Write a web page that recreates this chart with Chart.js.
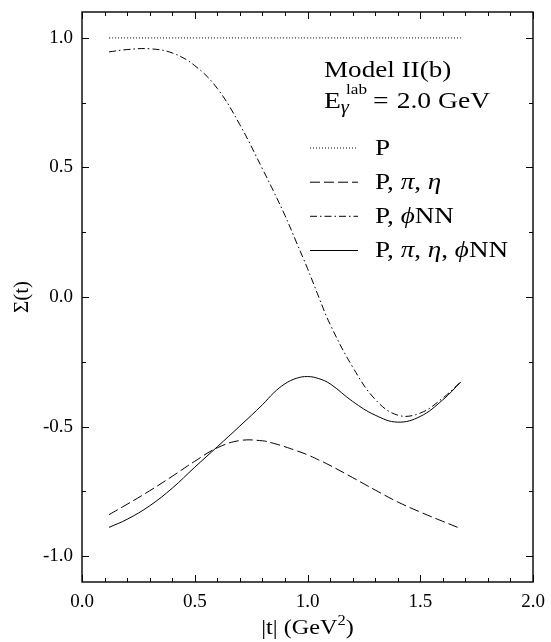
<!DOCTYPE html>
<html>
<head>
<meta charset="utf-8">
<script src="https://cdn.jsdelivr.net/npm/chart.js@4.4.0/dist/chart.umd.min.js"></script>
<style>
html,body{margin:0;padding:0;background:#fff;}
#wrap{width:551px;height:642px;position:relative;}
</style>
</head>
<body>
<div id="wrap"><canvas id="c" width="551" height="642"></canvas></div>
<script>
// ---- data ----
const tValues = [0.12,0.2,0.3,0.4,0.5,0.6,0.7,0.8,0.85,0.9,0.95,1.0,1.05,1.1,1.2,1.3,1.4,1.5,1.6,1.68];
const sigmaP = [1.0,1.0,1.0,1.0,1.0,1.0,1.0,1.0,1.0,1.0,1.0,1.0,1.0,1.0,1.0,1.0,1.0,1.0,1.0,1.0];
const sigmaPPiEta = [-0.840,-0.800,-0.748,-0.692,-0.634,-0.582,-0.554,-0.555,-0.565,-0.578,-0.593,-0.609,-0.629,-0.650,-0.697,-0.745,-0.791,-0.830,-0.866,-0.894];
const sigmaPPhi = [0.946,0.955,0.958,0.942,0.893,0.805,0.665,0.495,0.407,0.315,0.213,0.110,0.000,-0.105,-0.270,-0.395,-0.456,-0.448,-0.390,-0.327];
const sigmaAll = [-0.889,-0.858,-0.806,-0.738,-0.657,-0.578,-0.498,-0.416,-0.370,-0.335,-0.314,-0.307,-0.315,-0.335,-0.403,-0.456,-0.483,-0.461,-0.397,-0.328];
const xTicks = [0.0,0.5,1.0,1.5,2.0];
const yTicks = [-1.0,-0.5,0.0,0.5,1.0];
const seriesLabels = ['P','P, \u03c0, \u03b7','P, \u03d5NN','P, \u03c0, \u03b7, \u03d5NN'];
const xTitle = '|t| (GeV\u00b2)';
const yTitle = '\u03a3(t)';

const SERIF = "'Liberation Serif','DejaVu Serif',serif";
const pts = arr => tValues.map((t,i)=>({x:t,y:arr[i]}));
const dashes = [[1,2],[10,4],[7,3,1.5,3],[]];

const frame = {
  id:'frame',
  afterDraw(chart){
    const {ctx, chartArea:{left,right,top,bottom}, scales:{x,y}} = chart;
    ctx.save();
    ctx.strokeStyle='#000';
    ctx.setLineDash([]);
    ctx.lineWidth=1;
    const seg=(a,b,c,d)=>{ctx.beginPath();ctx.moveTo(a,b);ctx.lineTo(c,d);ctx.stroke();};
    for(let i=0;i<=20;i++){
      const px=Math.round(x.getPixelForValue(i/10))+0.5;
      const L=(i%5===0)?7:4;
      seg(px,bottom,px,bottom-L); seg(px,top,px,top+L);
    }
    for(let i=-4;i<=4;i++){
      const py=Math.round(y.getPixelForValue(i/4))+0.5;
      const L=(i%2===0)?7:4;
      seg(left,py,left+L,py); seg(right,py,right-L,py);
    }
    ctx.lineWidth=1.4;
    ctx.strokeRect(left, top, right-left, bottom-top);
    ctx.restore();
  }
};

function runsWidth(ctx, runs, sx){
  let w=0;
  for(const r of runs){ctx.font=r.font; w+=ctx.measureText(r.t).width*sx+(r.gap||0);}
  return w;
}
function drawRuns(ctx, x, y, runs, sx){
  let cx=x;
  for(const r of runs){
    ctx.font=r.font;
    ctx.save();
    ctx.translate(cx, y+(r.dy||0));
    ctx.scale(sx,1);
    ctx.fillText(r.t, 0, 0);
    ctx.restore();
    cx+=ctx.measureText(r.t).width*sx+(r.gap||0);
  }
}

const notes = {
  id:'notes',
  afterDraw(chart){
    const ctx=chart.ctx;
    const {chartArea:{left,right}} = chart;
    ctx.save();
    ctx.fillStyle='#000';
    ctx.textBaseline='alphabetic';
    ctx.textAlign='left';
    const F=s=>s+"px "+SERIF;
    const FI=s=>"italic "+s+"px "+SERIF;
    drawRuns(ctx,324,77,[{t:'Model II(b)',font:F(24)}],1.13);
    drawRuns(ctx,324,108,[{t:'E',font:F(24)},{t:'\u03b3',font:FI(18),dy:5,gap:-3},{t:'lab',font:F(15),dy:-14,gap:6},{t:'=',font:F(24),gap:8},{t:'2.0 GeV',font:F(24)}],1.15);
    const rows=[147.5,181.7,215.8,250];
    const labelRuns=[
      [{t:'P',font:F(23)}],
      [{t:'P, ',font:F(23)},{t:'\u03c0',font:FI(23)},{t:', ',font:F(23)},{t:'\u03b7',font:FI(23)}],
      [{t:'P, ',font:F(23)},{t:'\u03d5',font:FI(23)},{t:'NN',font:F(23)}],
      [{t:'P, ',font:F(23)},{t:'\u03c0',font:FI(23)},{t:', ',font:F(23)},{t:'\u03b7',font:FI(23)},{t:', ',font:F(23)},{t:'\u03d5',font:FI(23)},{t:'NN',font:F(23)}]
    ];
    rows.forEach((ry,i)=>{
      ctx.strokeStyle='#000';
      ctx.lineWidth=1;
      ctx.setLineDash(dashes[i]);
      ctx.beginPath();ctx.moveTo(310,ry+0.5);ctx.lineTo(358,ry+0.5);ctx.stroke();
      ctx.setLineDash([]);
      drawRuns(ctx,375,ry+7,labelRuns[i],1.18);
    });
    // x axis title
    const tRuns=[{t:'|t| (GeV',font:F(22)},{t:'2',font:F(15),dy:-9},{t:')',font:F(22)}];
    const w=runsWidth(ctx,tRuns,1.1);
    drawRuns(ctx,(left+right)/2-w/2,634,tRuns,1.1);
    ctx.restore();
  }
};

const mk=(arr,i)=>({
  label:seriesLabels[i], data:pts(arr), borderColor:'#000', borderWidth:1,
  borderDash:dashes[i], pointRadius:0, fill:false, tension:0.4, showLine:true
});

const zeroPad = s => { s.paddingTop=0; s.paddingBottom=0; s.paddingLeft=0; s.paddingRight=0; };

new Chart(document.getElementById('c'),{
  type:'scatter',
  data:{datasets:[mk(sigmaP,0),mk(sigmaPPiEta,1),mk(sigmaPPhi,2),mk(sigmaAll,3)]},
  options:{
    responsive:false, animation:false, devicePixelRatio:1,
    layout:{padding:{left:0,top:12,right:18,bottom:0}},
    plugins:{legend:{display:false},tooltip:{enabled:false}},
    scales:{
      x:{type:'linear',min:0,max:2,
        afterBuildTicks:s=>{s.ticks=xTicks.map(v=>({value:v}));},
        afterFit:s=>{s.height=60; zeroPad(s);},
        grid:{display:false,drawTicks:false},border:{display:false},
        ticks:{color:'#000',font:{family:SERIF,size:19},padding:9,maxRotation:0,autoSkip:false,callback:v=>Number(v).toFixed(1)},
        title:{display:false,text:xTitle}
      },
      y:{type:'linear',min:-1.1,max:1.1,
        afterBuildTicks:s=>{s.ticks=yTicks.map(v=>({value:v}));},
        afterFit:s=>{s.width=82; zeroPad(s);},
        grid:{display:false,drawTicks:false},border:{display:false},
        ticks:{color:'#000',font:{family:SERIF,size:19},padding:9,autoSkip:false,callback:v=>Number(v).toFixed(1)},
        title:{display:true,text:yTitle,color:'#000',font:{family:SERIF,size:21},padding:{top:10,bottom:0}}
      }
    }
  },
  plugins:[frame,notes]
});
</script>
</body>
</html>
